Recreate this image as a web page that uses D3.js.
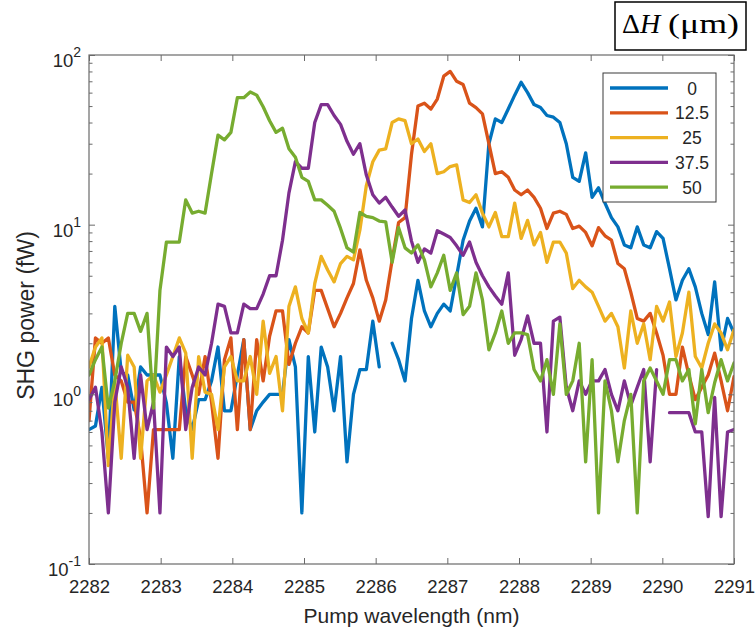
<!DOCTYPE html>
<html>
<head>
<meta charset="utf-8">
<script src="https://cdn.jsdelivr.net/npm/d3@7"></script>
<style>
  html, body { margin: 0; padding: 0; background: #fff; }
  svg { display: block; font-family: "Liberation Sans", Arial, sans-serif; }
</style>
</head>
<body>
<svg id="chart" width="756" height="635"></svg>
<script>
// Pump wavelength grid (nm)
const wavelength = [
  2282.00, 2282.09, 2282.18, 2282.27, 2282.36, 2282.45, 2282.54, 2282.63, 2282.72, 2282.81,
  2282.90, 2282.99, 2283.08, 2283.17, 2283.26, 2283.35, 2283.44, 2283.53, 2283.62, 2283.71,
  2283.80, 2283.89, 2283.98, 2284.07, 2284.16, 2284.25, 2284.34, 2284.43, 2284.52, 2284.61,
  2284.70, 2284.79, 2284.88, 2284.97, 2285.06, 2285.15, 2285.24, 2285.33, 2285.42, 2285.51,
  2285.60, 2285.69, 2285.78, 2285.87, 2285.96, 2286.05, 2286.14, 2286.23, 2286.32, 2286.41,
  2286.50, 2286.59, 2286.68, 2286.77, 2286.86, 2286.95, 2287.04, 2287.13, 2287.22, 2287.31,
  2287.40, 2287.49, 2287.58, 2287.67, 2287.76, 2287.85, 2287.94, 2288.03, 2288.12, 2288.21,
  2288.30, 2288.39, 2288.48, 2288.57, 2288.66, 2288.75, 2288.84, 2288.93, 2289.02, 2289.11,
  2289.20, 2289.29, 2289.38, 2289.47, 2289.56, 2289.65, 2289.74, 2289.83, 2289.92, 2290.01,
  2290.10, 2290.19, 2290.28, 2290.37, 2290.46, 2290.55, 2290.64, 2290.73, 2290.82, 2290.91,
  2291.00
];

// SHG power (fW) for each height offset; null = missing sample
const shg_0 = [
  0.62, 0.65, 1.1, 0.42, 3.3, 1.35, 1.3, 0.81, 1.45, 1.3,
  1.3, 1.3, 0.89, 0.42, 1.67, 0.8, 0.62, 0.93, 0.93, 1.2,
  1.9, 0.8, 0.8, 1.3, 2.1, 0.62, 0.8, 0.9, 1.0, 1.0,
  1.0, 2.1, 1.45, 0.2, 1.67, 0.6, 1.9, 1.45, 0.8, 1.67,
  0.4, 1.0, 1.4, 1.4, 2.7, 1.45, null, 2.0, 1.6, 1.2,
  2.8, 4.7, 3.1, 2.5, 3.0, 3.4, 3.1, 5.0, 8.1, 10.5,
  12.5, 9.7, 30, 42, 40, 48, 58, 69, 60, 51,
  49, 44, 43, 40, 30, 19, 18, 26.5, 14.5, 16.5,
  13.4, 11, 9.7, 7.6, 7.3, 9.7, 7.6, 7.3, 9.1, 8.3,
  5.5, 3.6, 4.7, 5.5, 4.3, 3.0, 2.25, 4.6, 1.83, 2.8,
  2.3
];
const shg_12_5 = [
  0.7, 2.15, 2.0, 2.15, 1.3, 1.2, 0.9, 0.9, 0.55, 0.2,
  0.62, 0.62, 0.62, 0.62, 0.62, 1.67, 1.3, 1.0, 1.67, 0.9,
  0.42, 1.6, 2.15, 0.62, 2.1, 0.62, 2.1, 1.2, 2.2, 3.1,
  3.1, 1.5, 2.0, 2.5, 2.3, 4.1, 4.1, 3.2, 2.5, 3.0,
  3.7, 4.5, 7.1, 4.7, 3.7, 2.7, 3.6, 6.2, 10.3, 11,
  26, 50, 52, 48, 55, 75, 80, 70, 67, 52,
  49, 45, 30, 20, 20.5, 19, 16, 15, 16, 14.5,
  12.5, 9.5, 11.7, 12, 11.5, 9.5, 9.8, 9, 7.5, 9.6,
  8.6, 8.1, 5.9, 5.5, 4.0, 2.8, 2.7, 3.0, 2.3, 1.7,
  1.0, 1.0, 1.9, 1.3, 0.93, 1.1, 1.3, 1.75, 1.2, 0.8,
  1.27
];
const shg_25 = [
  1.45, 1.9, 2.15, 0.38, 1.2, 0.42, 1.7, 1.45, 0.42, 1.2,
  1.3, 1.03, 1.3, 1.67, 2.15, 1.75, 0.42, 1.67, 1.03, 1.0,
  0.62, 1.45, 1.67, 1.2, 1.2, 1.67, 1.0, 2.7, 1.33, 1.67,
  0.8, 3.3, 4.3, 2.8, 2.3, 4.5, 6.5, 5.4, 4.6, 5.9,
  6.5, 6.2, 9.3, 17, 23.5, 27.5, 28, 40, 42, 41,
  30, 32, 27, 30, 20, 20.5, 22, 22.5, 14, 13.5,
  15, 11.7, 9.7, 11.8, 8.5, 8.5, 13.4, 8.3, 10.6, 7.6,
  9.0, 6.0, 7.9, 7.9, 6.8, 4.2, 4.7, 4.3, 4.0, 3.3,
  2.7, 3.0, 2.5, 1.43, 3.1, 2.0, 2.6, 1.6, 3.3, 2.7,
  3.5, 1.67, 2.3, 4.0, 1.67, 1.43, 2.0, 2.6, 2.3, 1.83,
  2.4
];
const shg_37_5 = [
  0.93, 1.1, 0.6, 0.2, 0.9, 1.45, 1.1, 0.42, 1.3, 0.62,
  0.9, 0.2, 1.9, 1.67, 1.9, 0.62, 1.1, 1.45, 1.3, 2.0,
  3.4, 3.3, 2.3, 2.3, 3.4, 3.2, 3.2, 3.9, 5.0, 5.0,
  8.1, 15.4, 23.5, 21.5, 21.5, 40, 51, 51, 44, 39,
  31, 26, 30, 19.6, 15, 13.4, 14.5, 12.7, 11.2, 12.2,
  8.0, 6.0, 7.2, 6.8, 9.2, 8.8, 8.4, 7.5, 6.6, 7.9,
  6.0, 5.0, 4.3, 3.8, 3.4, 5.2, 1.7, 2.1, 2.9, 2.0,
  2.0, 0.6, 2.7, 2.85, 1.1, 0.8, 1.2, 1.0, 1.2, 1.2,
  1.4, 1.0, 0.8, 1.2, 0.86, 1.1, 1.4, 0.4, 1.4, null,
  0.78, 0.78, 0.78, 0.78, 0.6, 0.6, 0.19, 0.96, 0.19, 0.6,
  0.62
];
const shg_50 = [
  1.3, 1.6, 1.9, 0.83, 1.2, 2.0, 3.0, 3.0, 2.35, 3.0,
  0.83, 4.1, 7.9, 7.9, 7.9, 14, 11.7, 12, 11.7, 20,
  33.7, 31.6, 35, 56, 56, 60.5, 58, 49.5, 41, 35,
  37, 28, 25, 19, 18, 14, 14, 13, 12, 9.5,
  7.3, 6.9, 11.8, 11.2, 11, 10.5, 10.4, 6.0, 9.6, 7.3,
  6.8, 7.6, 6.2, 4.3, 5.2, 6.6, 4.1, 5.2, 2.95, 3.3,
  5.2, 3.6, 1.83, 2.3, 3.1, 2.0, 2.3, 2.3, 2.25, 1.4,
  1.2, 1.6, 1.0, 2.6, 1.0, 1.2, 2.0, 0.4, 1.6, 0.2,
  1.2, 0.8, 0.4, 0.7, 1.0, 0.2, 1.2, 1.43, 1.2, 1.0,
  1.6, 1.6, 1.2, 1.4, 0.67, 1.4, 0.78, 1.17, 1.6, 1.2,
  1.53
];

const seriesNames = ["0", "12.5", "25", "37.5", "50"];
const seriesValues = [shg_0, shg_12_5, shg_25, shg_37_5, shg_50];
const seriesColors = ["#0072BD", "#D95319", "#EDB120", "#7E2F8E", "#77AC30"];

const xTicks = [2282, 2283, 2284, 2285, 2286, 2287, 2288, 2289, 2290, 2291];
const yTicks = [0.1, 1, 10, 100];
const yExponents = ["-1", "0", "1", "2"];
const yMinorTicks = [];
[0.1, 1, 10].forEach(d => [2, 3, 4, 5, 6, 7, 8, 9].forEach(m => yMinorTicks.push(d * m)));

const xLabel = "Pump wavelength (nm)";
const yLabel = "SHG power (fW)";

// ---- layout ----
const plot = { left: 89, right: 734, top: 55, bottom: 564 };
const axisColor = "#6a6a6a";
const textColor = "#262626";

const svg = d3.select("#chart");

const x = d3.scaleLinear().domain([2282, 2291]).range([plot.left, plot.right]);
const y = d3.scaleLog().domain([0.1, 100]).range([plot.bottom, plot.top]);

svg.append("defs").append("clipPath").attr("id", "plot-clip")
  .append("rect")
  .attr("x", plot.left).attr("y", plot.top)
  .attr("width", plot.right - plot.left).attr("height", plot.bottom - plot.top);

// ---- data lines ----
const line = d3.line()
  .defined(d => d.v != null)
  .x(d => x(d.w))
  .y(d => y(d.v));

const lines = svg.append("g").attr("clip-path", "url(#plot-clip)");
seriesValues.forEach((vals, k) => {
  const pts = wavelength.map((w, i) => ({ w, v: vals[i] }));
  lines.append("path")
    .datum(pts)
    .attr("d", line)
    .attr("fill", "none")
    .attr("stroke", seriesColors[k])
    .attr("stroke-width", 3.3)
    .attr("stroke-linejoin", "round")
    .attr("stroke-linecap", "round");
});

// ---- axes (ticks point inward on all four sides) ----
function styleAxis(g) {
  g.select(".domain").remove();
  g.selectAll(".tick line").attr("stroke", axisColor).attr("stroke-width", 1);
  g.selectAll(".tick text").attr("fill", textColor);
}

svg.append("g")
  .attr("transform", `translate(0,${plot.bottom})`)
  .call(d3.axisBottom(x).tickValues(xTicks).tickSizeInner(-6).tickSizeOuter(0)
    .tickPadding(16).tickFormat(d3.format("d")))
  .call(styleAxis)
  .call(g => g.selectAll(".tick text").attr("font-size", 18.5)
    .attr("font-family", "'Liberation Sans', Arial, sans-serif"));

svg.append("g")
  .attr("transform", `translate(0,${plot.top})`)
  .call(d3.axisTop(x).tickValues(xTicks).tickSizeInner(-6).tickSizeOuter(0).tickFormat(""))
  .call(styleAxis);

svg.append("g")
  .attr("transform", `translate(${plot.left},0)`)
  .call(d3.axisLeft(y).tickValues(yTicks).tickSizeInner(-6).tickSizeOuter(0).tickFormat(""))
  .call(styleAxis);
svg.append("g")
  .attr("transform", `translate(${plot.left},0)`)
  .call(d3.axisLeft(y).tickValues(yMinorTicks).tickSizeInner(-3.5).tickSizeOuter(0).tickFormat(""))
  .call(styleAxis);

svg.append("g")
  .attr("transform", `translate(${plot.right},0)`)
  .call(d3.axisRight(y).tickValues(yTicks).tickSizeInner(-6).tickSizeOuter(0).tickFormat(""))
  .call(styleAxis);
svg.append("g")
  .attr("transform", `translate(${plot.right},0)`)
  .call(d3.axisRight(y).tickValues(yMinorTicks).tickSizeInner(-3.5).tickSizeOuter(0).tickFormat(""))
  .call(styleAxis);

// axes box
svg.append("rect")
  .attr("x", plot.left).attr("y", plot.top)
  .attr("width", plot.right - plot.left).attr("height", plot.bottom - plot.top)
  .attr("fill", "none").attr("stroke", axisColor).attr("stroke-width", 1.2);

// y tick labels as powers of ten
const yLabels = svg.append("g").attr("fill", textColor);
yTicks.forEach((t, i) => {
  const txt = yLabels.append("text")
    .attr("x", plot.left - 8)
    .attr("y", y(t) + 12)
    .attr("text-anchor", "end")
    .attr("font-size", 18.5);
  txt.append("tspan").text("10");
  txt.append("tspan").attr("dy", -10).attr("font-size", 14).text(yExponents[i]);
});

// axis titles
svg.append("text")
  .attr("x", (plot.left + plot.right) / 2)
  .attr("y", 623)
  .attr("text-anchor", "middle")
  .attr("font-size", 21)
  .attr("fill", textColor)
  .text(xLabel);

svg.append("text")
  .attr("transform", `translate(34,${(plot.top + plot.bottom) / 2 + 6}) rotate(-90)`)
  .attr("text-anchor", "middle")
  .attr("font-size", 23)
  .attr("fill", textColor)
  .text(yLabel);

// ---- legend ----
const legend = svg.append("g");
legend.append("rect")
  .attr("x", 603).attr("y", 73).attr("width", 113).attr("height", 129)
  .attr("fill", "#fff").attr("stroke", "#3a3a3a").attr("stroke-width", 1);
seriesNames.forEach((name, k) => {
  const ry = 88 + k * 24.8;
  legend.append("line")
    .attr("x1", 610).attr("x2", 668).attr("y1", ry).attr("y2", ry)
    .attr("stroke", seriesColors[k]).attr("stroke-width", 3.3);
  legend.append("text")
    .attr("x", 692).attr("y", ry + 6.5)
    .attr("text-anchor", "middle")
    .attr("font-size", 17.5)
    .attr("fill", textColor)
    .text(name);
});

// ---- legend title box: ΔH (μm) ----
const titleBox = svg.append("g")
  .attr("font-family", "'Liberation Serif', 'DejaVu Serif', serif")
  .attr("font-size", 28)
  .attr("fill", "#000");
titleBox.append("rect")
  .attr("x", 615).attr("y", 2).attr("width", 131).attr("height", 48)
  .attr("fill", "#fff").attr("stroke", "#000").attr("stroke-width", 1.5);
const sym = titleBox.append("text").attr("x", 622).attr("y", 33);
sym.append("tspan").text("\u0394");
sym.append("tspan").attr("font-style", "italic").text("H");
titleBox.append("text")
  .attr("x", 668).attr("y", 33)
  .attr("textLength", 71)
  .attr("lengthAdjust", "spacingAndGlyphs")
  .text("(\u03bcm)");
</script>
</body>
</html>
